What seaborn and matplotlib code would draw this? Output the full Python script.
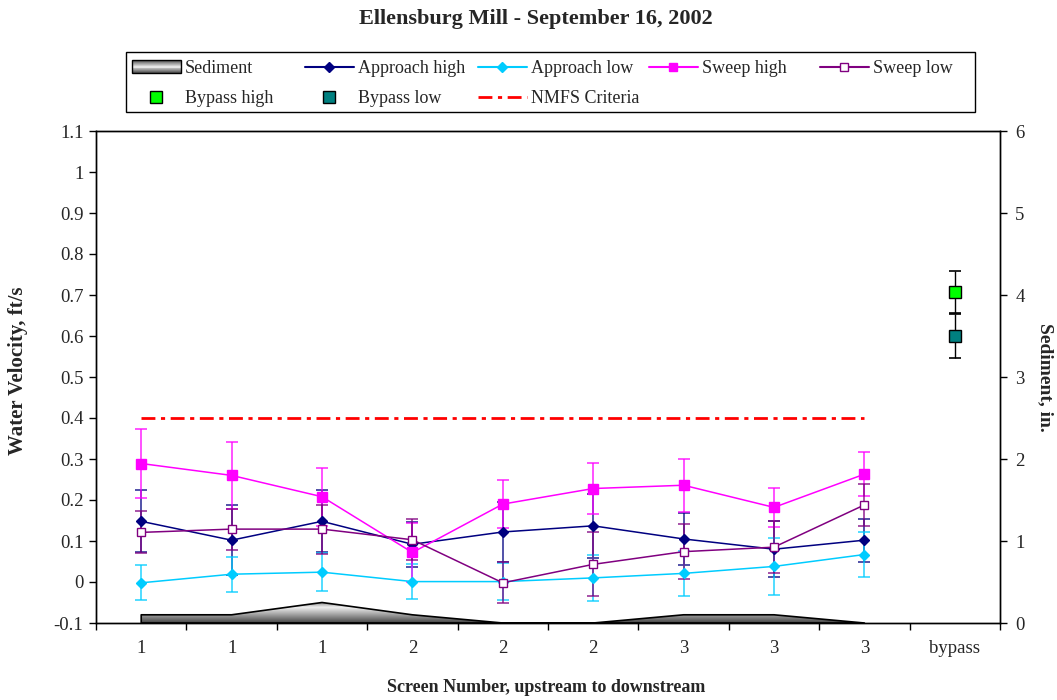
import matplotlib
matplotlib.use("Agg")
import matplotlib.pyplot as plt
import numpy as np
import pandas as pd
import seaborn as sns
from matplotlib.colors import LinearSegmentedColormap
from matplotlib.legend_handler import HandlerBase
from matplotlib.lines import Line2D
from matplotlib.patches import Patch, Rectangle
from matplotlib.ticker import FuncFormatter, FixedLocator

# === Data ===
screen_labels = ["1", "1", "1", "2", "2", "2", "3", "3", "3", "bypass"]

approach_high = [0.148, 0.102, 0.148, 0.092, 0.122, 0.137, 0.105, 0.080, 0.102]
approach_high_err = [0.076, 0.085, 0.076, 0.055, 0.072, 0.078, 0.064, 0.068, 0.052]
approach_low = [-0.002, 0.019, 0.024, 0.001, 0.001, 0.010, 0.021, 0.038, 0.067]
approach_low_err = [0.043, 0.043, 0.046, 0.043, 0.045, 0.056, 0.055, 0.069, 0.055]
sweep_high = [0.289, 0.260, 0.208, 0.072, 0.190, 0.228, 0.236, 0.182, 0.263]
sweep_high_err = [0.084, 0.081, 0.071, 0.071, 0.058, 0.063, 0.065, 0.048, 0.054]
sweep_low = [0.121, 0.129, 0.129, 0.103, -0.002, 0.043, 0.074, 0.085, 0.188]
sweep_low_err = [0.051, 0.050, 0.060, 0.050, 0.050, 0.078, 0.067, 0.064, 0.051]

bypass_high = [0.707]
bypass_high_err = [0.052]
bypass_low = [0.600]
bypass_low_err = [0.053]

sediment = [0.1, 0.1, 0.25, 0.1, 0.0, 0.0, 0.1, 0.1, 0.0]
nmfs_criteria = 0.4

# === Style ===
sns.set_theme(style="white")
plt.rcParams["font.family"] = ["Liberation Serif", "DejaVu Serif"]
plt.rcParams["font.size"] = 13

NMFS_DASH = (0, (5, 2, 1.5, 2))
sed_cmap = LinearSegmentedColormap.from_list(
    "sed", [(0.0, "#454545"), (0.75, "#f0f0f0"), (1.0, "#888888")])
legend_cmap = LinearSegmentedColormap.from_list(
    "sedleg", ["#555555", "#f2f2f2", "#555555"])


class GradientHandler(HandlerBase):
    # draws the sediment legend key as a banded grey gradient
    def create_artists(self, legend, orig_handle, xdescent, ydescent,
                       width, height, fontsize, trans):
        n = 14
        arts = []
        for i in range(n):
            r = Rectangle((-xdescent, -ydescent + i * height / n), width, height / n + 0.3,
                          facecolor=legend_cmap(i / (n - 1)), edgecolor="none",
                          transform=trans)
            arts.append(r)
        arts.append(Rectangle((-xdescent, -ydescent), width, height, fill=False,
                              edgecolor="black", linewidth=1.0, transform=trans))
        return arts


screen_x = np.arange(len(approach_high))
bypass_x = [len(screen_labels) - 1]

fig = plt.figure(figsize=(10.57, 7.0), dpi=100)
ax = fig.add_axes([96 / 1057, 1 - 623 / 700, 904 / 1057, 492 / 700])
ax2 = ax.twinx()
ax.set_zorder(ax2.get_zorder() + 1)
ax.patch.set_visible(False)

# --- sediment (right axis) with gradient fill ---
sed_poly = ax2.fill_between(screen_x, 0, sediment, facecolor="none",
                            edgecolor="black", linewidth=1.2, zorder=3)
grad = np.linspace(0, 1, 256).reshape(-1, 1)
im = ax2.imshow(grad, extent=[screen_x[0], screen_x[-1], 0, max(sediment)],
                origin="lower", aspect="auto", cmap=sed_cmap, zorder=2)
im.set_clip_path(sed_poly.get_paths()[0], transform=ax2.transData)
ax2.set_ylim(0, 6)
ax2.set_yticks(range(0, 7))
ax2.grid(False)

# --- velocity series ---
series = [
    ("Approach high", approach_high, approach_high_err, "#000080", "D", "#000080", 5),
    ("Approach low", approach_low, approach_low_err, "#00CCFF", "D", "#00CCFF", 5),
    ("Sweep high", sweep_high, sweep_high_err, "#FF00FF", "s", "#FF00FF", 6.5),
    ("Sweep low", sweep_low, sweep_low_err, "#800080", "s", "white", 6),
]
for name, vals, errs, col, mk, face, ms in series:
    df = pd.DataFrame({"x": screen_x, "y": vals})
    ax.errorbar(df["x"], df["y"], yerr=errs, fmt="none", ecolor=col,
                elinewidth=1.2, capsize=4, capthick=1.2, alpha=0.8, zorder=3)
    sns.lineplot(data=df, x="x", y="y", ax=ax, color=col, linewidth=1.1,
                 marker=mk, markersize=ms, markerfacecolor=face,
                 markeredgecolor=col, markeredgewidth=1.0, zorder=4)

# --- bypass points ---
ax.errorbar(bypass_x, bypass_high, yerr=bypass_high_err, fmt="none", ecolor="black",
            elinewidth=1.0, capsize=4, capthick=1.2, zorder=3)
ax.errorbar(bypass_x, bypass_low, yerr=bypass_low_err, fmt="none", ecolor="black",
            elinewidth=1.0, capsize=4, capthick=1.2, zorder=3)
ax.plot(bypass_x, bypass_high, "s", color="#00FF00", markeredgecolor="black",
        markersize=8, zorder=5)
ax.plot(bypass_x, bypass_low, "s", color="#008080", markeredgecolor="black",
        markersize=8, zorder=5)

# --- NMFS criteria ---
ax.plot([screen_x[0], screen_x[-1]], [nmfs_criteria] * 2, color="#FF0000",
        linewidth=2, linestyle=NMFS_DASH, zorder=2)

# --- axes ---
ax.set_xlim(-0.5, len(screen_labels) - 0.5)
ax.set_ylim(-0.1, 1.1)
ax.set_yticks(np.round(np.arange(-0.1, 1.11, 0.1), 1))
ax.yaxis.set_major_formatter(FuncFormatter(lambda v, p: f"{v:g}"))
ax.set_xticks(np.arange(len(screen_labels)))
ax.set_xticklabels(screen_labels)
ax.xaxis.set_minor_locator(FixedLocator(np.arange(-0.5, len(screen_labels), 1.0)))
ax.tick_params(axis="x", which="major", length=0, pad=12, labelsize=13.5)
ax.tick_params(axis="x", which="minor", length=5, width=1, direction="out",
               bottom=True, color="black")
ax.tick_params(axis="y", length=5, width=1, direction="out", left=True,
               color="black", labelsize=13.5, pad=4)
ax2.tick_params(axis="y", length=5, width=1, direction="out", right=True,
                color="black", labelsize=13.5, pad=6)
ax.set_xlabel("")
ax.set_ylabel("")
ax.grid(False)
for a in (ax, ax2):
    for s in a.spines.values():
        s.set_color("black")
        s.set_linewidth(1.0)

# --- texts ---
fig.text(536 / 1057, 1 - 19 / 700, "Ellensburg Mill - September 16, 2002",
         ha="center", va="center", fontsize=16, fontweight="bold")
fig.text(546 / 1057, 1 - 688 / 700, "Screen Number, upstream to downstream",
         ha="center", va="center", fontsize=13, fontweight="bold")
fig.text(18 / 1057, 1 - 371 / 700, "Water Velocity, ft/s", rotation=90,
         ha="center", va="center", fontsize=15, fontweight="bold")
fig.text(1045 / 1057, 1 - 377 / 700, "Sediment, in.", rotation=270,
         ha="center", va="center", fontsize=14, fontweight="bold")

# --- legend: one column per legend so columns sit where the original has them ---
h_sed = Patch(facecolor="#a8a8a8", edgecolor="black", label="Sediment")
h_ah = Line2D([], [], color="#000080", marker="D", markersize=5, label="Approach high")
h_al = Line2D([], [], color="#00CCFF", marker="D", markersize=5, label="Approach low")
h_sh = Line2D([], [], color="#FF00FF", marker="s", markersize=6, label="Sweep high")
h_sl = Line2D([], [], color="#800080", marker="s", markersize=6,
              markerfacecolor="white", label="Sweep low")
h_bh = Line2D([], [], linestyle="none", marker="s", markersize=8, color="#00FF00",
              markeredgecolor="black", label="Bypass high")
h_bl = Line2D([], [], linestyle="none", marker="s", markersize=8, color="#008080",
              markeredgecolor="black", label="Bypass low")
h_nm = Line2D([], [], color="#FF0000", linewidth=2, linestyle=NMFS_DASH,
              label="NMFS Criteria")

legend_cols = [
    (132, [h_sed, h_bh]),
    (305, [h_ah, h_bl]),
    (478, [h_al, h_nm]),
    (649, [h_sh]),
    (820, [h_sl]),
]
for x_px, hs in legend_cols:
    fig.legend(handles=hs, loc="upper left",
               bbox_to_anchor=(x_px / 1057, 1 - 60 / 700),
               frameon=False, fontsize=13, handlelength=2.7, handletextpad=0.22,
               borderpad=0, borderaxespad=0, labelspacing=0.72,
               handler_map={Patch: GradientHandler()})
fig.add_artist(Rectangle((126 / 1057, 1 - 112 / 700), 849 / 1057, 60 / 700,
                         transform=fig.transFigure, fill=False,
                         edgecolor="black", linewidth=1.0))

fig.savefig("out.png", dpi=100)
